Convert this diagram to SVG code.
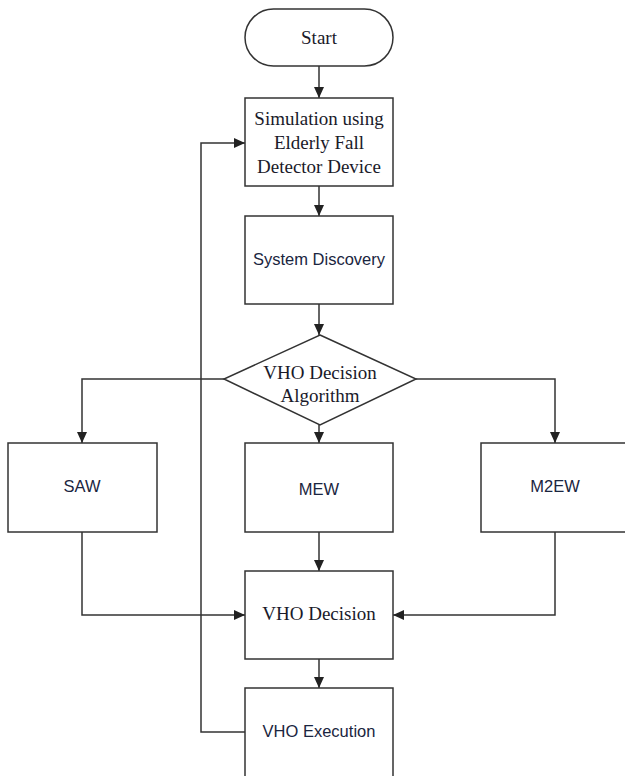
<svg xmlns="http://www.w3.org/2000/svg" width="625" height="776" viewBox="0 0 625 776">
<style>
.shape{fill:#fff;stroke:#333;stroke-width:1.5}
.conn{fill:none;stroke:#333;stroke-width:1.5}
.serif{font-family:"Liberation Serif","Times New Roman",serif;font-size:19px;fill:#1a1a2a;text-anchor:middle;dominant-baseline:central}
.sans{font-family:"Liberation Sans",Arial,sans-serif;font-size:16.5px;fill:#1a2540;text-anchor:middle;dominant-baseline:central}
</style>
<defs>
<marker id="arr" markerUnits="userSpaceOnUse" markerWidth="12" markerHeight="12" viewBox="0 0 12 12" refX="11" refY="6" orient="auto">
<path d="M0,1 L11,6 L0,11 Z" fill="#222"/>
</marker>
</defs>
<rect width="625" height="776" fill="#fff"/>
<g id="connectors">
<path class="conn" d="M319,66 V98" marker-end="url(#arr)"/>
<path class="conn" d="M319,186 V216" marker-end="url(#arr)"/>
<path class="conn" d="M319,304 V335" marker-end="url(#arr)"/>
<path class="conn" d="M224,379 H82 V443" marker-end="url(#arr)"/>
<path class="conn" d="M416,379 H555 V443" marker-end="url(#arr)"/>
<path class="conn" d="M319,425 V443" marker-end="url(#arr)"/>
<path class="conn" d="M319,532 V571" marker-end="url(#arr)"/>
<path class="conn" d="M82,532 V615 H245" marker-end="url(#arr)"/>
<path class="conn" d="M555,532 V615 H393" marker-end="url(#arr)"/>
<path class="conn" d="M319,659 V688" marker-end="url(#arr)"/>
<path class="conn" d="M245,732 H201 V143 H245" marker-end="url(#arr)"/>
</g>
<g id="start">
<rect class="shape" x="245" y="9" width="148" height="57" rx="28.5" ry="28.5"/>
<text class="serif" x="319" y="37">Start</text>
</g>
<g id="simulation">
<rect class="shape" x="245" y="98" width="148" height="88"/>
<text class="serif" x="319" y="118">Simulation using</text>
<text class="serif" x="319" y="142">Elderly Fall</text>
<text class="serif" x="319" y="166">Detector Device</text>
</g>
<g id="discovery">
<rect class="shape" x="245" y="216" width="148" height="88"/>
<text class="sans" x="319" y="259">System Discovery</text>
</g>
<g id="algorithm">
<polygon class="shape" points="320,335 416,379 320,425 224,379"/>
<text class="serif" x="320" y="372">VHO Decision</text>
<text class="serif" x="320" y="395">Algorithm</text>
</g>
<g id="saw">
<rect class="shape" x="8" y="443" width="149" height="89"/>
<text class="sans" x="82" y="486">SAW</text>
</g>
<g id="mew">
<rect class="shape" x="245" y="443" width="148" height="89"/>
<text class="sans" x="319" y="489">MEW</text>
</g>
<g id="m2ew">
<rect class="shape" x="481" y="443" width="148" height="89"/>
<text class="sans" x="555" y="486">M2EW</text>
</g>
<g id="decision">
<rect class="shape" x="245" y="571" width="148" height="88"/>
<text class="serif" x="319" y="613">VHO Decision</text>
</g>
<g id="execution">
<rect class="shape" x="245" y="688" width="148" height="96"/>
<text class="sans" x="319" y="731">VHO Execution</text>
</g>
</svg>
